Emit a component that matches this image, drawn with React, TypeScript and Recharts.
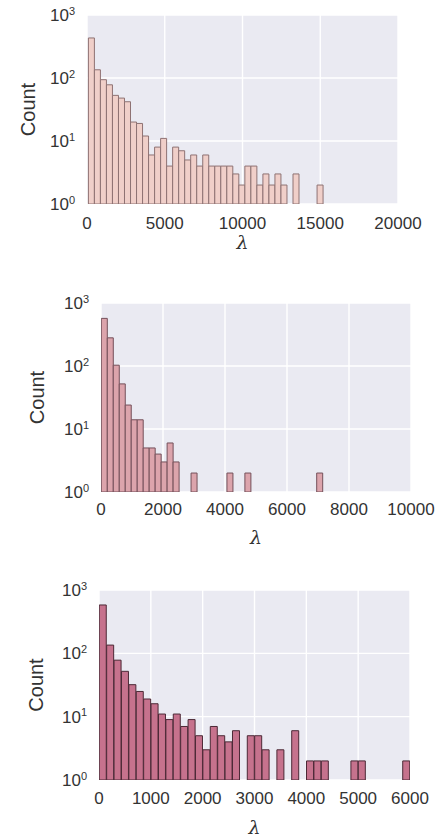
import React from 'react';
import { BarChart, Bar, XAxis, YAxis, CartesianGrid } from 'recharts';

// ---------- Panel 1 ----------
const P1_BIN_START = 90;
const P1_BIN_WIDTH = 387;
const P1_COUNTS: (number | null)[] = [
  432, 135, 94, 78, 53, 48, 42, 20, 19, 12,
  6, 8, 11, 4, 8, 7, 5, 6, 4, 6,
  4, 4, 4, 4, 3, 2, 4, 4, 2, 3,
  2, 3, 2, null, 3, null, null, null, 2,
];
const P1_X_TICKS = [0, 5000, 10000, 15000, 20000];

// ---------- Panel 2 ----------
const P2_BIN_START = 10;
const P2_BIN_WIDTH = 193;
const P2_COUNTS: (number | null)[] = [
  570, 280, 103, 52, 24, 14, 14, 5, 5, 4,
  3, 6, 3, null, null, 2, null, null, null, null,
  null, 2, null, null, 2, null, null, null, null, null,
  null, null, null, null, null, null, 2,
];
const P2_X_TICKS = [0, 2000, 4000, 6000, 8000, 10000];

// ---------- Panel 3 ----------
const P3_BIN_START = 5;
const P3_BIN_WIDTH = 142.8;
const P3_COUNTS: (number | null)[] = [
  580, 135, 78, 52, 32, 25, 19, 16, 11, 9,
  11, 7, 9, 5, 3, 7, 5, 4, 6, null,
  5, 5, 3, null, 3, null, 6, null, 2, 2,
  2, null, null, null, 2, 2, null, null, null, null,
  null, 2,
];
const P3_X_TICKS = [0, 1000, 2000, 3000, 4000, 5000, 6000];

const Y_TICKS = [1, 10, 100, 1000];

const FONT = '"Liberation Sans", Arial, Helvetica, sans-serif';
const TEXT_COLOR = '#333333';

function buildBins(start: number, width: number, counts: (number | null)[]) {
  const out: { x: number; range: [number, number] }[] = [];
  counts.forEach((c, i) => {
    if (c != null) out.push({ x: start + (i + 0.5) * width, range: [1, c] });
  });
  return out;
}

const XTick = (props: any) => {
  const { x, y, payload } = props;
  return (
    <text x={x} y={y} dy="0.71em" textAnchor="middle" fill={TEXT_COLOR} fontSize={17} fontFamily={FONT}>
      {payload.value}
    </text>
  );
};

const YTick = (props: any) => {
  const { x, y, payload } = props;
  const exp = Math.round(Math.log10(payload.value));
  return (
    <text x={x} y={y} dy="0.36em" textAnchor="end" fill={TEXT_COLOR} fontSize={17} fontFamily={FONT}>
      10
      <tspan dy="-0.6em" fontSize={11}>
        {exp}
      </tspan>
    </text>
  );
};

type PanelProps = {
  top: number;
  counts: (number | null)[];
  start: number;
  width: number;
  xTicks: number[];
  fill: string;
  stroke: string;
  plotTop: number;
  plotRight: number;
  xAxisHeight: number;
  yAxisWidth: number;
  xTickMargin: number;
  lambdaY: number;
  countX: number;
};

const Panel = (p: PanelProps) => {
  const data = buildBins(p.start, p.width, p.counts);
  const xMax = p.xTicks[p.xTicks.length - 1];
  return (
    <div style={{ position: 'absolute', left: 0, top: p.top, width: 448, height: 280 }}>
      <BarChart
        width={448}
        height={280}
        data={data}
        margin={{ top: p.plotTop, right: p.plotRight, bottom: 0, left: 0 }}
        barCategoryGap={0}
        barGap={0}
      >
        <CartesianGrid fill="#EAEAF2" stroke="#FFFFFF" strokeWidth={1.4} />
        <XAxis
          dataKey="x"
          type="number"
          domain={[0, xMax]}
          ticks={p.xTicks}
          allowDataOverflow
          axisLine={false}
          tickLine={false}
          tickSize={0}
          tickMargin={p.xTickMargin}
          tick={<XTick />}
          interval={0}
          height={p.xAxisHeight}
          label={{
            content: (lp: any) => {
              const vb = lp.viewBox || {};
              return (
                <text
                  x={vb.x + vb.width / 2}
                  y={vb.y + p.lambdaY}
                  textAnchor="middle"
                  fill={TEXT_COLOR}
                  fontSize={19}
                  fontStyle="italic"
                  fontFamily='"DejaVu Serif", "Liberation Serif", serif'
                >
                  λ
                </text>
              );
            },
          }}
        />
        <YAxis
          type="number"
          scale="log"
          domain={[1, 1000]}
          ticks={Y_TICKS}
          allowDataOverflow
          axisLine={false}
          tickLine={false}
          tickSize={0}
          tickMargin={12}
          tick={<YTick />}
          interval={0}
          width={p.yAxisWidth}
          label={{
            content: (lp: any) => {
              const vb = lp.viewBox || {};
              const cy = vb.y + vb.height / 2;
              return (
                <text
                  x={p.countX}
                  y={cy}
                  textAnchor="middle"
                  dominantBaseline="central"
                  transform={`rotate(-90 ${p.countX} ${cy})`}
                  fill={TEXT_COLOR}
                  fontSize={20}
                  fontFamily={FONT}
                >
                  Count
                </text>
              );
            },
          }}
        />
        <Bar dataKey="range" fill={p.fill} stroke={p.stroke} strokeWidth={1} isAnimationActive={false} />
      </BarChart>
    </div>
  );
};

export default function App() {
  return (
    <div style={{ position: 'absolute', left: 0, top: 0, width: 448, height: 840, background: '#fff', overflow: 'hidden' }}>
      <Panel
        top={0}
        counts={P1_COUNTS}
        start={P1_BIN_START}
        width={P1_BIN_WIDTH}
        xTicks={P1_X_TICKS}
        fill="#F0CFC9"
        stroke="#8E7273"
        plotTop={15}
        plotRight={50}
        xAxisHeight={76}
        yAxisWidth={87}
        xTickMargin={13}
        lambdaY={45}
        countX={28}
      />
      <Panel
        top={280}
        counts={P2_COUNTS}
        start={P2_BIN_START}
        width={P2_BIN_WIDTH}
        xTicks={P2_X_TICKS}
        fill="#DCA4AC"
        stroke="#74505A"
        plotTop={23}
        plotRight={37}
        xAxisHeight={68}
        yAxisWidth={101}
        xTickMargin={11}
        lambdaY={52}
        countX={37}
      />
      <Panel
        top={560}
        counts={P3_COUNTS}
        start={P3_BIN_START}
        width={P3_BIN_WIDTH}
        xTicks={P3_X_TICKS}
        fill="#C6728D"
        stroke="#4C2936"
        plotTop={30}
        plotRight={38}
        xAxisHeight={60}
        yAxisWidth={99}
        xTickMargin={12}
        lambdaY={54}
        countX={36}
      />
    </div>
  );
}
